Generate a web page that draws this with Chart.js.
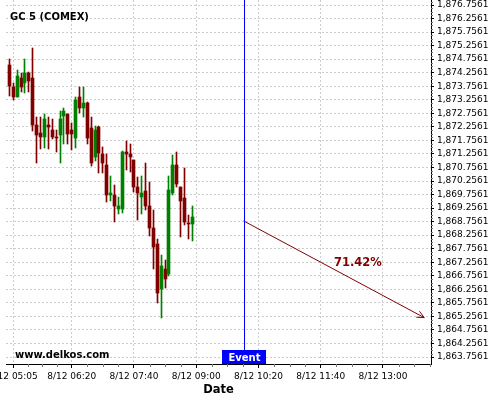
<!DOCTYPE html>
<html><head><meta charset="utf-8">
<script src="https://cdn.jsdelivr.net/npm/chart.js@4.4.1/dist/chart.umd.min.js"></script>
<style>html,body{margin:0;padding:0;background:#fff}canvas{display:block}</style>
</head><body>
<canvas id="c" width="500" height="400"></canvas>
<script>
// ---- data ----
const symbolName = "GC 5 (COMEX)";
const watermark = "www.delkos.com";
const times = ["05:00","05:05","05:10","05:15","05:20","05:25","05:30","05:35","05:40","05:45","05:50","05:55",
  "06:00","06:05","06:10","06:15","06:20","06:25","06:30","06:35","06:40","06:45","06:50","06:55",
  "07:00","07:05","07:10","07:15","07:20","07:25","07:30","07:35","07:40","07:45","07:50","07:55",
  "08:00","08:05","08:10","08:15","08:20","08:25","08:30","08:35","08:40","08:45","08:50","08:55"];
const opens  = [1874.54,1873.74,1873.37,1874.06,1873.86,1874.26,1874.06,1872.32,1872.03,1871.87,1872.32,1872.14,
  1871.89,1871.97,1872.67,1872.72,1872.14,1871.86,1873.36,1872.96,1873.15,1872.20,1871.15,1872.26,
  1871.25,1870.85,1869.74,1869.74,1869.23,1869.23,1871.31,1871.25,1871.03,1870.05,1869.65,1869.89,
  1869.33,1868.53,1867.93,1866.26,1867.00,1866.82,1869.82,1870.85,1870.02,1869.62,1868.69,1868.65];
const highs  = [1874.75,1873.89,1874.36,1874.23,1874.75,1874.30,1875.16,1872.63,1872.63,1872.73,1872.63,1872.54,
  1872.14,1872.84,1872.95,1872.73,1872.39,1873.37,1873.72,1873.72,1873.16,1872.63,1872.27,1872.27,
  1871.52,1871.25,1870.44,1870.11,1869.68,1871.38,1871.73,1871.62,1871.04,1870.42,1870.43,1870.92,
  1870.21,1869.19,1868.10,1867.52,1867.34,1870.44,1871.22,1871.31,1870.03,1870.73,1869.01,1869.32];
const lows   = [1873.41,1873.25,1873.34,1873.54,1873.52,1873.54,1872.10,1870.91,1871.44,1871.49,1871.43,1871.81,
  1871.31,1870.91,1871.61,1871.61,1871.40,1871.46,1872.76,1872.63,1871.61,1870.81,1871.01,1870.54,
  1870.54,1869.49,1869.50,1868.74,1869.04,1869.09,1870.68,1870.60,1869.86,1868.81,1869.04,1869.20,
  1868.24,1867.00,1865.74,1865.19,1866.29,1866.75,1869.74,1870.05,1868.20,1868.63,1868.10,1868.03];
const closes = [1873.75,1873.37,1874.13,1873.74,1874.26,1873.96,1872.32,1871.96,1871.87,1872.55,1872.25,1871.87,
  1871.84,1872.54,1872.84,1871.98,1871.98,1873.25,1872.97,1873.15,1871.86,1870.93,1872.14,1871.28,
  1870.93,1869.74,1869.82,1869.33,1869.33,1871.31,1871.25,1871.15,1870.05,1869.82,1869.82,1869.34,
  1868.53,1867.83,1866.13,1867.12,1866.63,1869.92,1870.85,1870.15,1869.53,1868.75,1868.65,1868.92];
const xTickTimes  = ["05:05","06:20","07:40","09:00","10:20","11:40","13:00"];
const xTickLabels = ["8/12 05:05","8/12 06:20","8/12 07:40","8/12 09:00","8/12 10:20","8/12 11:40","8/12 13:00"];
const yTickValues = [1863.7561,1864.2561,1864.7561,1865.2561,1865.7561,1866.2561,1866.7561,1867.2561,1867.7561,
  1868.2561,1868.7561,1869.2561,1869.7561,1870.2561,1870.7561,1871.2561,1871.7561,1872.2561,1872.7561,
  1873.2561,1873.7561,1874.2561,1874.7561,1875.2561,1875.7561,1876.2561,1876.7561];
const eventTime = "10:01";
const eventLabel = "Event";
const forecastStart = {time: "10:01", price: 1868.78};
const forecastEnd   = {time: "13:53", price: 1865.21};
const forecastProbability = "71.42%";
const xAxisTitle = "Date";

// ---- layout constants ----
const X_MIN = 295.6, X_MAX = 841.7;
const Y_MIN = 1863.4976, Y_MAX = 1876.9408;
const RED = '#800000', GREEN = '#008000';
const FONT = "'DejaVu Sans', sans-serif";

const toMin = s => { const [h, m] = s.split(':').map(Number); return h * 60 + m; };
const majorVals = xTickTimes.map(toMin);
const xMinor = [];
for (let i = 0; i < majorVals.length; i++) {
  const step = (i < majorVals.length - 1 ? majorVals[i + 1] - majorVals[i] : majorVals[i] - majorVals[i - 1]) / 4;
  for (let k = 1; k < 4; k++) { const v = majorVals[i] + k * step; if (v < X_MAX) xMinor.push(v); }
}
const yMinor = [];
for (let i = 0; i < yTickValues.length; i++) {
  for (let k = 1; k < 4; k++) { const v = yTickValues[i] + k * 0.125; if (v < Y_MAX) yMinor.push(v); }
}
const fmtPrice = v => v.toFixed(4).replace(/^(\d)(\d{3})/, '$1,$2');

const isUp = times.map((t, i) => closes[i] >= opens[i]);
const colors = isUp.map(u => u ? GREEN : RED);
const bodies = times.map((t, i) => ({x: toMin(t), y: [opens[i], closes[i]]}));
const wicks = times.map((t, i) => ({x: toMin(t), y: [lows[i], highs[i]]}));

const overlay = {
  id: 'overlay',
  beforeDatasetsDraw(chart) {
    // snap candle bars to the pixel grid for crisp edges
    [0, 1].forEach(di => {
      chart.getDatasetMeta(di).data.forEach(el => {
        el.x = Math.floor(el.x) + 0.5;
        el.y = Math.round(el.y);
        el.base = Math.round(el.base);
        if (el.y === el.base) el.base = el.y + 1;
      });
    });
  },
  afterDatasetsDraw(chart) {
    const {ctx, chartArea: a, scales: {x}} = chart;
    ctx.save();
    const ex = Math.round(x.getPixelForValue(toMin(eventTime))) + 0.5;
    ctx.strokeStyle = '#0000ff'; ctx.lineWidth = 1;
    ctx.beginPath(); ctx.moveTo(ex, a.top); ctx.lineTo(ex, a.bottom); ctx.stroke();
    ctx.fillStyle = '#0000ff';
    ctx.fillRect(Math.round(ex - 22.5), a.bottom - 14, 44, 14);
    ctx.fillStyle = '#fff'; ctx.font = "bold 10px " + FONT;
    ctx.textAlign = 'center'; ctx.textBaseline = 'alphabetic';
    ctx.fillText(eventLabel, ex, a.bottom - 2.7);
    const meta = chart.getDatasetMeta(2);
    const p0 = meta.data[0], p1 = meta.data[1];
    const ang = Math.atan2(p1.y - p0.y, p1.x - p0.x);
    const L = 8, da = 25 * Math.PI / 180;
    ctx.strokeStyle = RED; ctx.lineWidth = 1;
    ctx.beginPath();
    ctx.moveTo(p1.x - L * Math.cos(ang - da), p1.y - L * Math.sin(ang - da));
    ctx.lineTo(p1.x, p1.y);
    ctx.lineTo(p1.x - L * Math.cos(ang + da), p1.y - L * Math.sin(ang + da));
    ctx.stroke();
    const mx = (p0.x + p1.x) / 2, my = (p0.y + p1.y) / 2;
    ctx.fillStyle = RED; ctx.font = "bold 11.5px " + FONT;
    ctx.textAlign = 'left'; ctx.textBaseline = 'alphabetic';
    ctx.fillText(forecastProbability, mx, my - 3);
    ctx.fillStyle = '#000'; ctx.font = "bold 10px " + FONT;
    ctx.fillText(symbolName, a.left + 4, a.top + 19.5);
    ctx.fillText(watermark, a.left + 9, a.bottom - 6.5);
    ctx.restore();
  },
  afterDraw(chart) {
    const {ctx, chartArea: a, scales: {x, y}} = chart;
    ctx.save();
    ctx.strokeStyle = '#777'; ctx.lineWidth = 1;
    ctx.beginPath();
    xMinor.forEach(v => {
      const px = Math.round(x.getPixelForValue(v)) + 0.5;
      ctx.moveTo(px, a.bottom); ctx.lineTo(px, a.bottom + 3);
    });
    yMinor.forEach(v => {
      const py = Math.round(y.getPixelForValue(v)) + 0.5;
      ctx.moveTo(a.right, py); ctx.lineTo(a.right + 2, py);
    });
    ctx.stroke();
    ctx.restore();
  }
};

new Chart(document.getElementById('c'), {
  type: 'bar',
  data: {
    datasets: [
      {data: bodies, backgroundColor: colors, barThickness: 3, minBarLength: 1, grouped: false, order: 1},
      {data: wicks, backgroundColor: colors, barThickness: 1, grouped: false, order: 2},
      {type: 'line', data: [{x: toMin(forecastStart.time), y: forecastStart.price}, {x: toMin(forecastEnd.time), y: forecastEnd.price}],
       borderColor: RED, borderWidth: 1, pointRadius: 0, fill: false, order: 0}
    ]
  },
  options: {
    responsive: false, animation: false,
    layout: {padding: {left: 6, top: 0, right: 0, bottom: 0}},
    plugins: {legend: {display: false}, tooltip: {enabled: false}},
    scales: {
      x: {
        type: 'linear', min: X_MIN, max: X_MAX, offset: false,
        afterBuildTicks: s => { s.ticks = majorVals.map(v => ({value: v})); },
        afterFit: s => { s.height = 36; s.paddingLeft = 0; s.paddingRight = 0; },
        ticks: {
          autoSkip: false, maxRotation: 0, padding: 3, color: '#000',
          font: {family: FONT, size: 9},
          callback: v => { const i = majorVals.indexOf(v); return i >= 0 ? xTickLabels[i] : ''; }
        },
        grid: {offset: false, lineWidth: 1, tickLength: 4, tickColor: '#000', color: '#cccccc', borderDash: [2, 2]},
        border: {display: true, color: '#000', width: 1, dash: [2, 2]},
        title: {display: true, text: xAxisTitle, color: '#000', font: {family: FONT, size: 11.5, weight: 'bold'}, padding: {top: 0, bottom: 3}}
      },
      y: {
        type: 'linear', position: 'right', min: Y_MIN, max: Y_MAX, beginAtZero: false,
        afterBuildTicks: s => { s.ticks = yTickValues.map(v => ({value: v})); },
        afterFit: s => { s.width = 69; s.paddingTop = 0; s.paddingBottom = 0; },
        ticks: {padding: 3, color: '#000', font: {family: FONT, size: 9}, callback: v => fmtPrice(v)},
        grid: {lineWidth: 1, tickLength: 3, tickColor: '#000', color: '#cccccc', borderDash: [2, 2]},
        border: {display: true, color: '#000', width: 1, dash: [2, 2]}
      }
    }
  },
  plugins: [overlay]
});
</script>
</body></html>
